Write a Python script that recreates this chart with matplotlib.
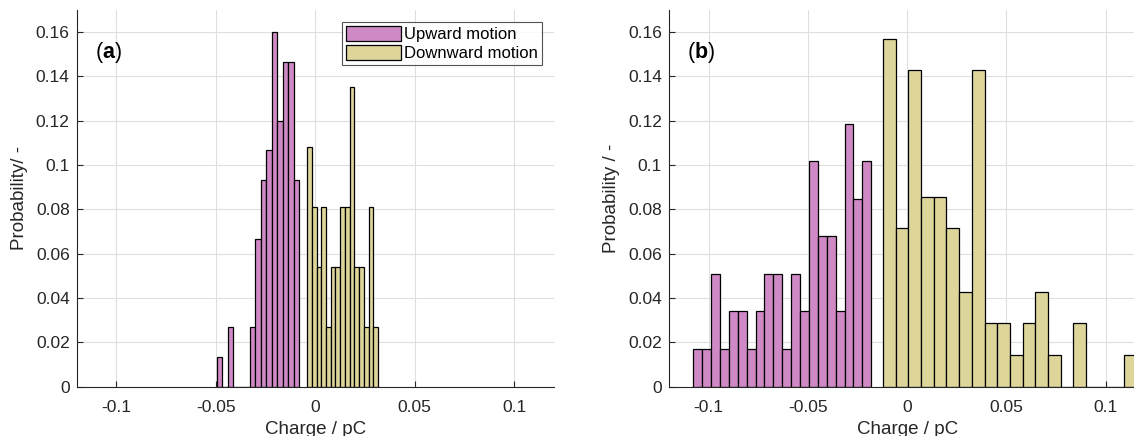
import numpy as np
import matplotlib
matplotlib.use("Agg")
import matplotlib.pyplot as plt
from matplotlib.ticker import FuncFormatter

plt.rcParams['font.family'] = ['Liberation Sans', 'DejaVu Sans']
plt.rcParams['mathtext.fontset'] = 'custom'
plt.rcParams['mathtext.rm'] = 'Liberation Sans'
plt.rcParams['mathtext.bf'] = 'Liberation Sans:bold'
plt.rcParams['axes.unicode_minus'] = False

# ---------------- data ----------------
# Panel (a)
a_up_first_edge = -0.0495
a_up_bin_width = 0.002766
a_up_prob = [0.0133, 0.0, 0.0267, 0.0, 0.0, 0.0, 0.0267, 0.0667, 0.0933,
             0.1067, 0.16, 0.12, 0.1467, 0.1467, 0.0933]

a_down_first_edge = -0.00413
a_down_bin_width = 0.00238
a_down_prob = [0.1081, 0.0811, 0.0541, 0.0811, 0.027, 0.0541, 0.0541, 0.0811,
               0.0811, 0.1351, 0.0541, 0.0541, 0.027, 0.0811, 0.027]

# Panel (b)
b_up_first_edge = -0.1078
b_up_bin_width = 0.004486
b_up_prob = [0.0169, 0.0169, 0.0508, 0.0169, 0.0339, 0.0339, 0.0169, 0.0339,
             0.0508, 0.0508, 0.0169, 0.0508, 0.0339, 0.1017, 0.0678, 0.0678,
             0.0339, 0.1186, 0.0847, 0.1017]

b_down_first_edge = -0.0122
b_down_bin_width = 0.006392
b_down_prob = [0.1571, 0.0714, 0.1429, 0.0857, 0.0857, 0.0714, 0.0429, 0.1429,
               0.0286, 0.0286, 0.0143, 0.0286, 0.0429, 0.0143, 0.0, 0.0286,
               0.0, 0.0, 0.0, 0.0143]

series_labels = ["Upward motion", "Downward motion"]
panel_labels = ["a", "b"]
x_ticks = [-0.1, -0.05, 0, 0.05, 0.1]
y_ticks = [0, 0.02, 0.04, 0.06, 0.08, 0.1, 0.12, 0.14, 0.16]
x_label = "Charge / pC"
y_labels = ["Probability/ -", "Probability / -"]

# ---------------- style ----------------
UP_COLOR = '#CF8AC6'
DOWN_COLOR = '#DDD59A'
AX_COLOR = '#262626'
GRID_COLOR = '#DFDFDF'

fig = plt.figure(figsize=(11.34, 4.36), dpi=100)
ax_a = fig.add_axes([0.0676, 0.1135, 0.4209, 0.8635])
ax_b = fig.add_axes([0.5899, 0.1135, 0.4202, 0.8635])

fmt = FuncFormatter(lambda v, p: ('%g' % round(v, 6)))


def draw_hist(ax, first_edge, width, probs, color, label):
    probs = np.asarray(probs)
    lefts = first_edge + width * np.arange(len(probs))
    ax.bar(lefts, probs, width=width, align='edge', color=color,
           edgecolor='black', linewidth=0.9, label=label, zorder=2)


draw_hist(ax_a, a_up_first_edge, a_up_bin_width, a_up_prob, UP_COLOR, series_labels[0])
draw_hist(ax_a, a_down_first_edge, a_down_bin_width, a_down_prob, DOWN_COLOR, series_labels[1])
draw_hist(ax_b, b_up_first_edge, b_up_bin_width, b_up_prob, UP_COLOR, series_labels[0])
draw_hist(ax_b, b_down_first_edge, b_down_bin_width, b_down_prob, DOWN_COLOR, series_labels[1])

for ax, lab, ylab in zip([ax_a, ax_b], panel_labels, y_labels):
    ax.set_xlim(-0.12, 0.12)
    ax.set_ylim(0, 0.17)
    ax.set_xticks(x_ticks)
    ax.set_yticks(y_ticks)
    ax.xaxis.set_major_formatter(fmt)
    ax.yaxis.set_major_formatter(fmt)
    ax.set_axisbelow(True)
    ax.grid(True, color=GRID_COLOR, linewidth=0.8)
    for s in ['top', 'right']:
        ax.spines[s].set_visible(False)
    for s in ['left', 'bottom']:
        ax.spines[s].set_color(AX_COLOR)
        ax.spines[s].set_linewidth(0.8)
    ax.tick_params(direction='in', length=4, width=0.8, color=AX_COLOR,
                   labelcolor=AX_COLOR, labelsize=12.5)
    ax.tick_params(axis='x', pad=10)
    ax.tick_params(axis='y', pad=5)
    ax.set_xlabel(x_label, fontsize=13.5, color=AX_COLOR, labelpad=4)
    ax.set_ylabel(ylab, fontsize=13.5, color=AX_COLOR, labelpad=6)
    ax.text(0.038, 0.888, r'($\mathbf{%s}$)' % lab, transform=ax.transAxes,
            fontsize=15.5, color='black', va='center', ha='left')

leg = ax_a.legend(loc='upper right', bbox_to_anchor=(0.975, 0.968),
                  borderaxespad=0, fontsize=12, frameon=True, fancybox=False,
                  edgecolor=AX_COLOR, handlelength=3.3, handleheight=1.0,
                  handletextpad=0.15, labelspacing=0.15, borderpad=0.25)
leg.get_frame().set_linewidth(0.8)

fig.savefig('out.png', dpi=100)
